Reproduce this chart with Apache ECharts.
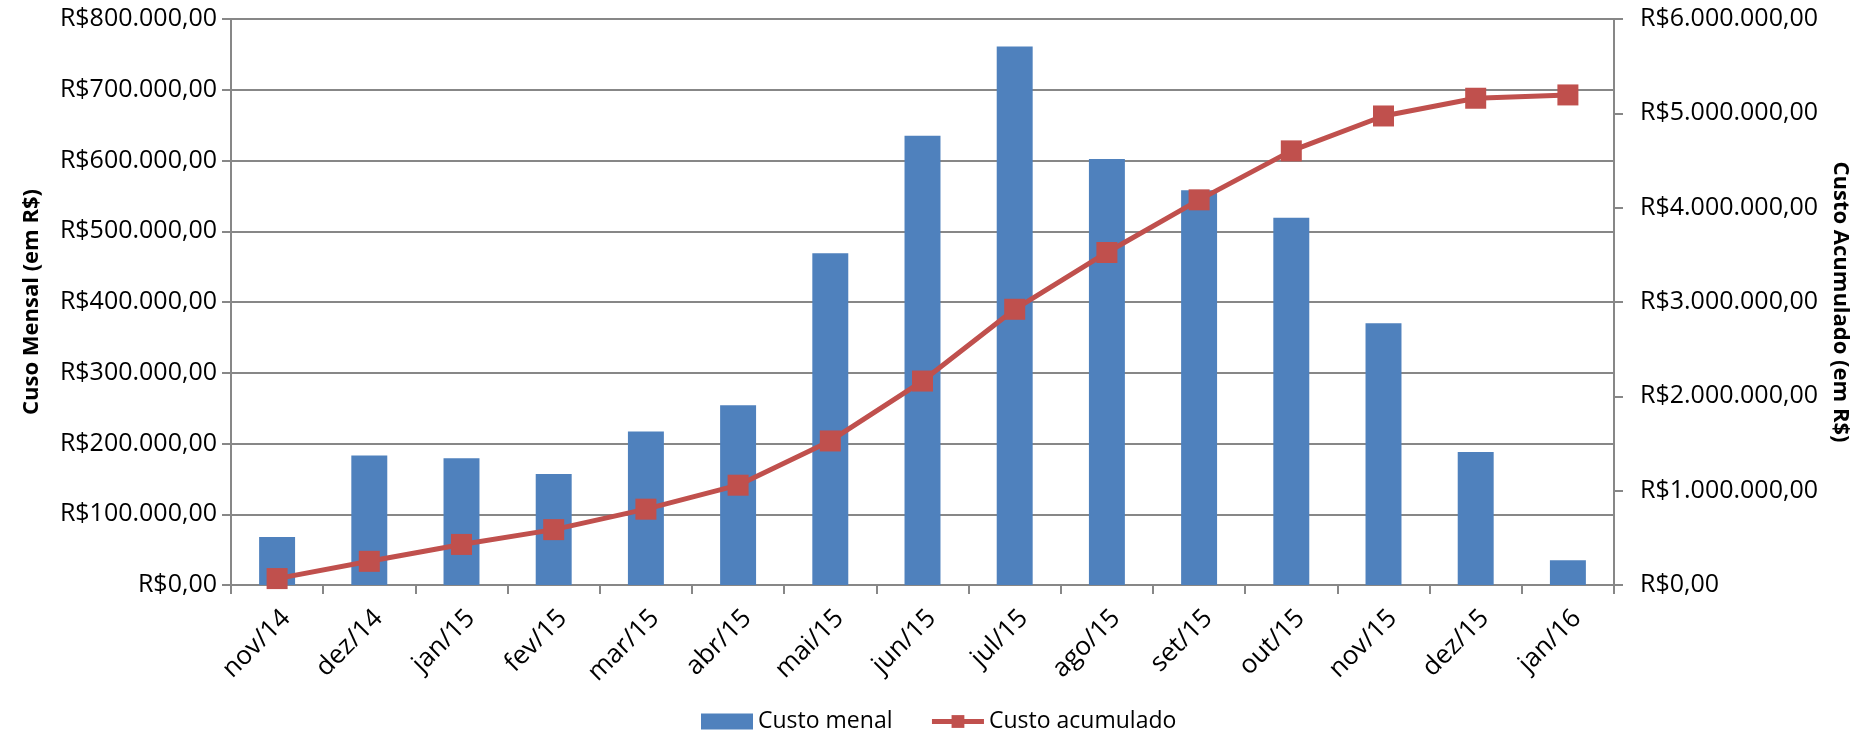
<!DOCTYPE html>
<html>
<head>
<meta charset="utf-8">
<title>Custo mensal e acumulado</title>
<script src="https://cdn.jsdelivr.net/npm/echarts@6/dist/echarts.min.js"></script>
<style>
  html, body { margin: 0; padding: 0; background: #ffffff; }
  #chart { width: 1860px; height: 737px; }
</style>
</head>
<body>
<div id="chart"></div>
<script>
// Meses do período
const months = ['nov/14', 'dez/14', 'jan/15', 'fev/15', 'mar/15', 'abr/15', 'mai/15', 'jun/15',
                'jul/15', 'ago/15', 'set/15', 'out/15', 'nov/15', 'dez/15', 'jan/16'];

// Custo de cada mês (R$)
const monthlyCost = [68000, 183000, 179000, 157000, 217000, 254000, 469000, 635000,
                     761000, 602000, 558000, 519000, 370000, 188000, 35000];

// Custo acumulado até cada mês (R$)
const cumulativeCost = [68000, 251000, 430000, 587000, 804000, 1058000, 1527000, 2162000,
                        2923000, 3525000, 4083000, 4602000, 4972000, 5160000, 5195000];

// Escalas dos eixos
const leftAxisMax = 800000, leftAxisStep = 100000;
const rightAxisMax = 6000000, rightAxisStep = 1000000;

const seriesNames = ['Custo menal', 'Custo acumulado'];
const axisTitles = ['Cuso Mensal (em R$)', 'Custo Acumulado (em R$)'];

// Formato monetário brasileiro: R$1.234.567,00
function brl(v) {
  const s = Math.round(v).toString().replace(/\B(?=(\d{3})+(?!\d))/g, '.');
  return 'R$' + s + ',00';
}

const FONT = '"Open Sans", "Liberation Sans", sans-serif';
const GRAY = '#878787';
const BLUE = '#4F81BD';
const RED = '#C0504D';
const LABEL_SIZE = 25;

const chart = echarts.init(document.getElementById('chart'), null, { renderer: 'canvas' });

chart.setOption({
  animation: false,
  backgroundColor: '#ffffff',
  textStyle: { fontFamily: FONT },
  grid: { left: 231, right: 246, top: 19, bottom: 152, containLabel: false },
  legend: {
    bottom: -1,
    left: 696,
    itemGap: 37,
    itemWidth: 52,
    itemHeight: 16,
    textStyle: { fontFamily: FONT, fontSize: 23, color: '#000' },
    data: [
      { name: seriesNames[0], icon: 'rect' },
      { name: seriesNames[1], lineStyle: { width: 5 } }
    ]
  },
  xAxis: {
    type: 'category',
    data: months,
    boundaryGap: true,
    axisLine: { show: true, lineStyle: { color: GRAY, width: 2 } },
    axisTick: { show: true, alignWithLabel: false, length: 9, lineStyle: { color: GRAY, width: 2 } },
    axisLabel: {
      interval: 0, rotate: 45, margin: 20,
      verticalAlign: 'top',
      fontFamily: FONT, fontSize: 26, color: '#000'
    },
    splitLine: { show: false }
  },
  yAxis: [
    {
      type: 'value',
      min: 0, max: leftAxisMax, interval: leftAxisStep,
      position: 'left',
      name: axisTitles[0],
      nameLocation: 'middle',
      nameRotate: 90,
      nameGap: 188,
      nameTextStyle: { fontFamily: FONT, fontSize: 22, fontWeight: 'bold', color: '#000' },
      axisLine: { show: true, lineStyle: { color: GRAY, width: 2 } },
      axisTick: { show: true, length: 9, lineStyle: { color: GRAY, width: 2 } },
      axisLabel: { margin: 14, fontFamily: FONT, fontSize: LABEL_SIZE, color: '#000', formatter: brl },
      splitLine: { show: true, lineStyle: { color: GRAY, width: 2 } }
    },
    {
      type: 'value',
      min: 0, max: rightAxisMax, interval: rightAxisStep,
      position: 'right',
      name: axisTitles[1],
      nameLocation: 'middle',
      nameRotate: -90,
      nameGap: 212,
      nameTextStyle: { fontFamily: FONT, fontSize: 22, fontWeight: 'bold', color: '#000' },
      axisLine: { show: true, lineStyle: { color: GRAY, width: 2 } },
      axisTick: { show: true, length: 9, lineStyle: { color: GRAY, width: 2 } },
      axisLabel: { margin: 26, fontFamily: FONT, fontSize: LABEL_SIZE, color: '#000', formatter: brl },
      splitLine: { show: false }
    }
  ],
  series: [
    {
      name: seriesNames[0],
      type: 'bar',
      yAxisIndex: 0,
      data: monthlyCost,
      barWidth: '39%',
      itemStyle: { color: BLUE }
    },
    {
      name: seriesNames[1],
      type: 'line',
      yAxisIndex: 1,
      data: cumulativeCost,
      symbol: 'rect',
      symbolSize: 21,
      lineStyle: { color: RED, width: 5 },
      itemStyle: { color: RED },
      z: 5
    }
  ]
});
</script>
</body>
</html>
